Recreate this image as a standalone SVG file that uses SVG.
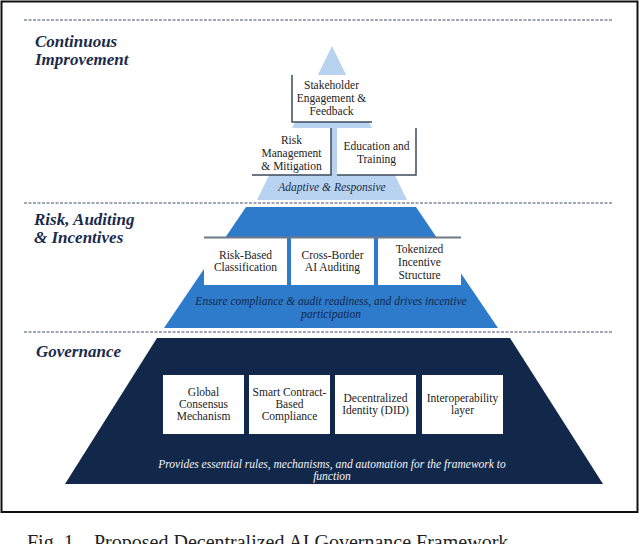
<svg xmlns="http://www.w3.org/2000/svg" width="640" height="544" viewBox="0 0 640 544">
<style>
.hdr{font-family:"Liberation Serif",serif;font-weight:bold;font-style:italic;font-size:17px;fill:#1b2b4b}
.bx{font-family:"Liberation Serif",serif;font-size:11.5px;fill:#222;text-anchor:middle}
.it{font-family:"Liberation Serif",serif;font-style:italic;font-size:11.5px;text-anchor:middle}
.dash{stroke:#3d4c68;stroke-width:1;stroke-dasharray:3 1.5;fill:none}
.card{fill:#fff}
.edge{stroke:#3c4a5c;stroke-width:1.5;fill:none}
.cap{font-family:"Liberation Serif",serif;font-size:20px;fill:#222}
</style>
<rect x="1.5" y="1.5" width="636" height="510.5" fill="#fff" stroke="#111" stroke-width="2"/>
<g id="dividers">
<line class="dash" x1="24" y1="20" x2="613" y2="20"/>
<line class="dash" x1="24" y1="203" x2="613" y2="203"/>
<line class="dash" x1="24" y1="332" x2="613" y2="332"/>
</g>
<g id="tier-continuous">
<polygon points="332,46 257,200 407,200" fill="#b8d3ef"/>
<text class="hdr" x="35" y="47">Continuous</text>
<text class="hdr" x="35" y="65">Improvement</text>
<text class="it" x="332" y="191" fill="#1b2b4b">Adaptive &amp; Responsive</text>
</g>
<g id="node-stakeholder">
<rect class="card" x="292" y="75" width="79" height="47"/>
<polyline class="edge" points="292,75 292,122 372,122"/>
<text class="bx" x="331.5" y="89">Stakeholder</text>
<text class="bx" x="331.5" y="102">Engagement &amp;</text>
<text class="bx" x="331.5" y="115">Feedback</text>
</g>
<g id="node-risk-mgmt">
<rect class="card" x="252" y="128" width="79" height="47"/>
<polyline class="edge" points="331,128 331,175 252,175"/>
<text class="bx" x="291.5" y="144">Risk</text>
<text class="bx" x="291.5" y="157">Management</text>
<text class="bx" x="291.5" y="170">&amp; Mitigation</text>
</g>
<g id="node-education">
<rect class="card" x="337" y="128" width="79" height="47"/>
<polyline class="edge" points="416,128 416,175 337,175"/>
<text class="bx" x="376.5" y="150">Education and</text>
<text class="bx" x="376.5" y="163">Training</text>
</g>
<g id="tier-risk">
<polygon points="246,207 416,207 498,328 164,328" fill="#2e7bcb"/>
<text class="hdr" x="34" y="225">Risk, Auditing</text>
<text class="hdr" x="34" y="243">&amp; Incentives</text>
<text class="it" x="331" y="305" fill="#13284a">Ensure compliance &amp; audit readiness, and drives incentive</text>
<text class="it" x="331" y="318" fill="#13284a">participation</text>
</g>
<g id="node-risk-based">
<rect class="card" x="204" y="237" width="83" height="48"/>
<text class="bx" x="245.5" y="259">Risk-Based</text>
<text class="bx" x="245.5" y="271">Classification</text>
</g>
<g id="node-cross-border">
<rect class="card" x="291" y="237" width="83" height="48"/>
<text class="bx" x="332.5" y="259">Cross-Border</text>
<text class="bx" x="332.5" y="271">AI Auditing</text>
</g>
<g id="node-tokenized">
<rect class="card" x="378" y="237" width="83" height="48"/>
<text class="bx" x="419.5" y="253">Tokenized</text>
<text class="bx" x="419.5" y="266">Incentive</text>
<text class="bx" x="419.5" y="279">Structure</text>
</g>
<g id="connectors">
<line x1="204" y1="237.5" x2="461" y2="237.5" stroke="#6c7a89" stroke-width="2"/>
</g>
<g id="tier-governance">
<polygon points="157,338 510,338 603,484 65,484" fill="#12284a"/>
<text class="hdr" x="36" y="357">Governance</text>
<text class="it" x="332" y="468" fill="#f2f4f7">Provides essential rules, mechanisms, and automation for the framework to</text>
<text class="it" x="332" y="480" fill="#f2f4f7">function</text>
</g>
<g id="node-consensus">
<rect class="card" x="163" y="375" width="81" height="59"/>
<text class="bx" x="203.5" y="396">Global</text>
<text class="bx" x="203.5" y="408">Consensus</text>
<text class="bx" x="203.5" y="420">Mechanism</text>
</g>
<g id="node-smart-contract">
<rect class="card" x="249" y="375" width="81" height="59"/>
<text class="bx" x="289.5" y="396">Smart Contract-</text>
<text class="bx" x="289.5" y="408">Based</text>
<text class="bx" x="289.5" y="420">Compliance</text>
</g>
<g id="node-did">
<rect class="card" x="335" y="375" width="81" height="59"/>
<text class="bx" x="375.5" y="402">Decentralized</text>
<text class="bx" x="375.5" y="414">Identity (DID)</text>
</g>
<g id="node-interop">
<rect class="card" x="422" y="375" width="81" height="59"/>
<text class="bx" x="462.5" y="402">Interoperability</text>
<text class="bx" x="462.5" y="414">layer</text>
</g>
<g id="caption">
<text class="cap" x="27" y="549">Fig. 1.</text>
<text class="cap" x="94" y="549">Proposed Decentralized AI Governance Framework</text>
</g>
</svg>
